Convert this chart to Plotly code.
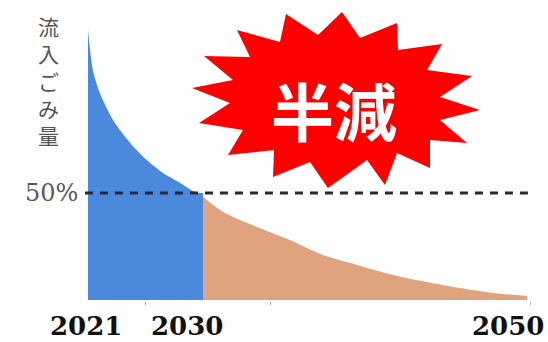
import plotly.graph_objects as go

# ---- data (timeline position 0..100 across 2021..2050, amount where 50 = half) ----
blue_t = [0, 1.1, 2.7, 5.7, 9.6, 13.4, 17.1, 21.0, 24.4, 26.2]
blue_v = [126.2, 107.5, 96.7, 84.1, 73.4, 65.4, 59.3, 54.7, 50.5, 50.0]
orange_t = [26.2, 30.8, 38.5, 46.0, 53.5, 61.3, 69.5, 77.2, 84.7, 92.3, 100.0]
orange_v = [48.1, 41.1, 34.1, 28.0, 21.0, 16.4, 11.7, 8.4, 5.6, 3.3, 1.9]
half_level = 50
half_line_t = [-0.7, 100.2]
year_labels = ["2021", "2030", "2050"]
minor_ticks = [13.2, 41.5, 100.9]
y_label = "流入ごみ量"
half_label = "50%"
burst_text = "半減"

W, H = 548, 342

fig = go.Figure()
fig.add_trace(go.Scatter(x=blue_t, y=blue_v, mode="lines", fill="tozeroy",
                         line=dict(width=0, color="#4A89DC", shape="spline", smoothing=0.8),
                         fillcolor="#4A89DC", showlegend=False, hoverinfo="skip"))
fig.add_trace(go.Scatter(x=orange_t, y=orange_v, mode="lines", fill="tozeroy",
                         line=dict(width=0, color="#DFA47F", shape="spline", smoothing=0.8),
                         fillcolor="#DFA47F", showlegend=False, hoverinfo="skip"))
fig.add_trace(go.Scatter(x=half_line_t, y=[half_level, half_level], mode="lines",
                         line=dict(width=3, color="#262a36", dash="8px,7px"),
                         showlegend=False, hoverinfo="skip"))

# starburst (decoration) in pixel coords -> paper
burst_px = [(286, 14), (318, 35), (342, 12), (360, 38), (397, 23), (398, 50),
            (442, 44), (427, 70), (472, 76), (440, 97), (480, 110), (440, 120),
            (467, 143), (430, 140), (430, 168), (397, 153), (385, 185), (367, 160),
            (328, 188), (310, 162), (273, 177), (274, 150), (228, 155), (243, 130),
            (199, 123), (230, 103), (192, 88), (233, 80), (204, 56), (250, 57),
            (237, 30), (280, 42)]
path = "M " + " L ".join(f"{x / W:.4f},{1 - y / H:.4f}" for x, y in burst_px) + " Z"
fig.add_shape(type="path", path=path, xref="paper", yref="paper",
              fillcolor="#FF0000", line=dict(width=0), layer="above")

ann = []
ann.append(dict(text=burst_text, x=334 / W, y=1 - 108 / H, xref="paper", yref="paper",
                showarrow=False, xanchor="center", yanchor="middle",
                font=dict(family="Noto Sans CJK JP", size=63, color="white", weight=700)))
ann.append(dict(text="<br>".join(list(y_label)), x=48 / W, y=1 - 80 / H,
                xref="paper", yref="paper", showarrow=False,
                xanchor="center", yanchor="middle",
                font=dict(family="Noto Sans CJK JP", size=21, color="#555555")))
ann.append(dict(text=half_label, x=0, y=half_level, xref="x", yref="y",
                xanchor="right", yanchor="middle", xshift=-8, showarrow=False,
                font=dict(family="DejaVu Serif", size=24, color="#5a5a5a")))
for lab, px in zip(year_labels, [86, 187, 508]):
    ann.append(dict(text=f"<b>{lab}</b>", x=px / W, y=0, xref="paper",
                    yref="paper", showarrow=False, xanchor="center", yanchor="bottom",
                    borderpad=0,
                    font=dict(family="DejaVu Serif", size=26, color="#111111")))

fig.update_layout(
    width=W, height=H, margin=dict(l=0, r=0, t=0, b=0),
    paper_bgcolor="white", plot_bgcolor="white",
    xaxis=dict(range=[-20.05, 104.78], showgrid=False, zeroline=False,
               showline=False, tickvals=minor_ticks, ticks="outside", ticklen=3,
               tickcolor="#aaaaaa", showticklabels=False, fixedrange=True,
               anchor="free", position=(H - 301) / H),
    yaxis=dict(range=[-19.63, 140.19], showgrid=False, zeroline=False,
               showline=False, showticklabels=False, fixedrange=True),
    annotations=ann,
)
fig.write_html("out.html")
